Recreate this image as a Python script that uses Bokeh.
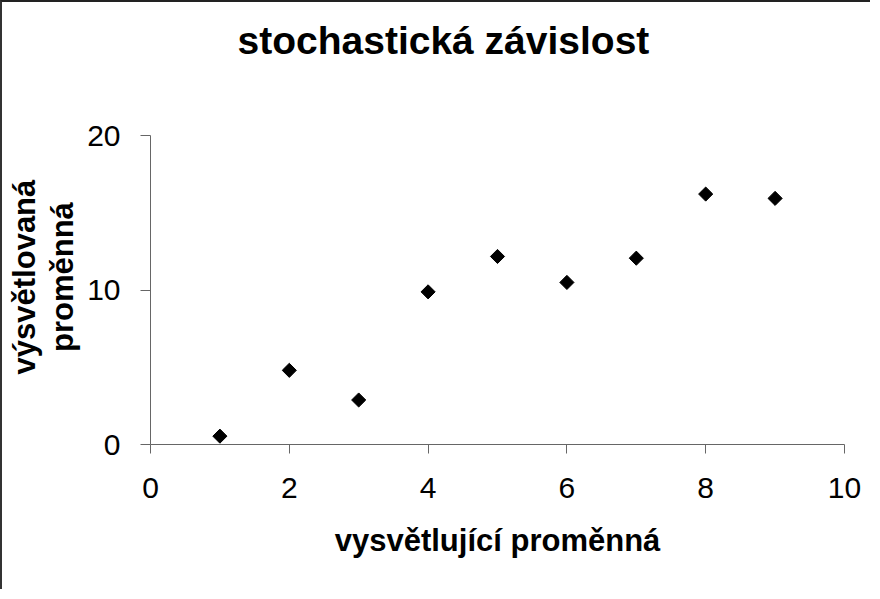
from bokeh.plotting import figure
from bokeh.models import Range1d, FixedTicker, Title
from bokeh.embed import file_html
from bokeh.resources import INLINE
import math

x_vals = [1, 2, 3, 4, 5, 6, 7, 8, 9]
y_vals = [0.54, 4.8, 2.88, 9.88, 12.17, 10.49, 12.06, 16.21, 15.93]
x_ticks = [0, 2, 4, 6, 8, 10]
y_ticks = [0, 10, 20]
title_text = "stochastická závislost"
x_label = "vysvětlující proměnná"
y_label = "\u00a0\u00a0\u00a0výsvětlovaná\n\u00a0\u00a0\u00a0proměnná"

FONT = "Liberation Sans"

p = figure(width=870, height=589, output_backend="svg", toolbar_location=None,
           x_range=Range1d(0, 10), y_range=Range1d(0, 20),
           min_border_left=148, min_border_right=28,
           min_border_top=133, min_border_bottom=147)
p.styles = {"border-left": "2px solid #333333", "border-top": "2px solid #222222"}
p.title.visible = False

spacer = Title(text="\u00a0", text_font=FONT, text_font_size="10px", standoff=56)
main_title = Title(text=title_text, text_font=FONT, text_font_size="39px",
                   text_font_style="bold", text_color="black",
                   align="left", offset=87, standoff=10)
p.add_layout(spacer, "above")
p.add_layout(main_title, "above")

p.outline_line_color = None
p.xgrid.visible = False
p.ygrid.visible = False
p.background_fill_color = "white"
p.border_fill_color = "white"

for ax in (p.xaxis[0], p.yaxis[0]):
    ax.axis_line_color = "#666666"
    ax.major_tick_line_color = "#666666"
    ax.minor_tick_line_color = None
    ax.major_tick_in = 0
    ax.major_label_text_font = FONT
    ax.major_label_text_font_size = "30px"
    ax.major_label_text_color = "black"
    ax.axis_label_text_font = FONT
    ax.axis_label_text_font_size = "31px"
    ax.axis_label_text_font_style = "bold"
    ax.axis_label_text_color = "black"

p.xaxis.ticker = FixedTicker(ticks=x_ticks)
p.yaxis.ticker = FixedTicker(ticks=y_ticks)
p.xaxis.major_tick_out = 9
p.yaxis.major_tick_out = 10
p.xaxis.major_label_standoff = 24
p.yaxis.major_label_standoff = 20
p.xaxis.axis_label = x_label
p.yaxis.axis_label = y_label
p.yaxis.axis_label_text_line_height = 1.1
p.xaxis.axis_label_standoff = 22
p.yaxis.axis_label_standoff = 4

p.scatter(x_vals, y_vals, marker="square", size=10, angle=math.pi / 4,
          fill_color="black", line_color="black")

open("out.html", "w").write(file_html(p, INLINE))
